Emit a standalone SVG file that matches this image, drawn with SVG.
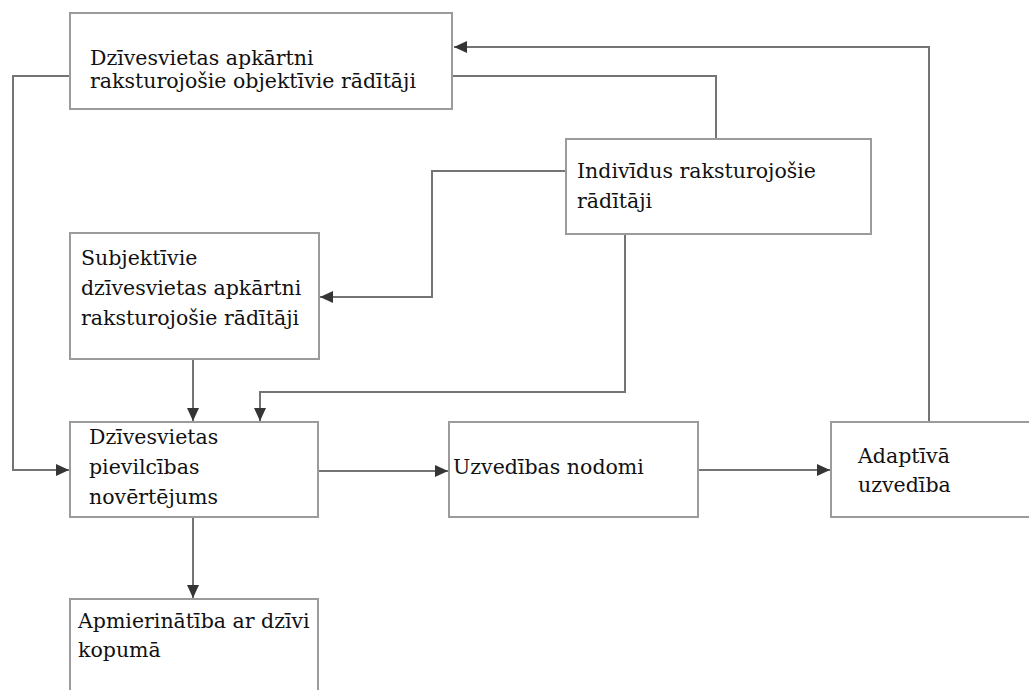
<svg xmlns="http://www.w3.org/2000/svg" width="1029" height="690" viewBox="0 0 1029 690">
  <style>
    .box { fill: #ffffff; stroke: #9b9b9b; stroke-width: 2; }
    .lbl { font-family: "DejaVu Serif", "Liberation Serif", serif; font-size: 20.5px; fill: #111111; }
    .wire { fill: none; stroke: #747474; stroke-width: 2; }
  </style>
  <defs>
    <marker id="arrow" markerUnits="userSpaceOnUse" markerWidth="14" markerHeight="12" refX="13" refY="6" orient="auto">
      <path d="M0,0 L13,6 L0,12 Z" fill="#353535"/>
    </marker>
  </defs>
  <rect width="1029" height="690" fill="#ffffff"/>

  <!-- connectors -->
  <g id="connectors">
    <path class="wire" d="M70,76 H13 V470 H69" marker-end="url(#arrow)"/>
    <path class="wire" d="M452,76 H716 V139"/>
    <path class="wire" d="M929,422 V47 H454" marker-end="url(#arrow)"/>
    <path class="wire" d="M566,171 H432 V297 H320" marker-end="url(#arrow)"/>
    <path class="wire" d="M625,234 V392 H260 V421" marker-end="url(#arrow)"/>
    <path class="wire" d="M193,359 V421" marker-end="url(#arrow)"/>
    <path class="wire" d="M318,471 H448" marker-end="url(#arrow)"/>
    <path class="wire" d="M698,470 H830" marker-end="url(#arrow)"/>
    <path class="wire" d="M193,517 V598" marker-end="url(#arrow)"/>
  </g>

  <g id="objective-indicators">
    <rect class="box" x="70" y="13" width="382" height="96"/>
    <text class="lbl" x="90" y="65">Dzīvesvietas apkārtni</text>
    <text class="lbl" x="90" y="88">raksturojošie objektīvie rādītāji</text>
  </g>

  <g id="individual-indicators">
    <rect class="box" x="566" y="139" width="305" height="95"/>
    <text class="lbl" x="577" y="178">Indivīdus raksturojošie</text>
    <text class="lbl" x="577" y="208">rādītāji</text>
  </g>

  <g id="subjective-indicators">
    <rect class="box" x="70" y="233" width="249" height="126"/>
    <text class="lbl" x="81" y="265">Subjektīvie</text>
    <text class="lbl" x="81" y="295">dzīvesvietas apkārtni</text>
    <text class="lbl" x="81" y="325">raksturojošie rādītāji</text>
  </g>

  <g id="attractiveness">
    <rect class="box" x="70" y="422" width="248" height="95"/>
    <text class="lbl" x="89" y="444">Dzīvesvietas</text>
    <text class="lbl" x="89" y="474">pievilcības</text>
    <text class="lbl" x="89" y="504">novērtējums</text>
  </g>

  <g id="intentions">
    <rect class="box" x="449" y="422" width="249" height="95"/>
    <text class="lbl" x="453" y="474">Uzvedības nodomi</text>
  </g>

  <g id="adaptive-behaviour">
    <rect class="box" x="831" y="422" width="210" height="95"/>
    <text class="lbl" x="858" y="463">Adaptīvā</text>
    <text class="lbl" x="858" y="492">uzvedība</text>
  </g>

  <g id="life-satisfaction">
    <rect class="box" x="70" y="599" width="248" height="100"/>
    <text class="lbl" x="78" y="628">Apmierinātība ar dzīvi</text>
    <text class="lbl" x="78" y="657">kopumā</text>
  </g>
</svg>
